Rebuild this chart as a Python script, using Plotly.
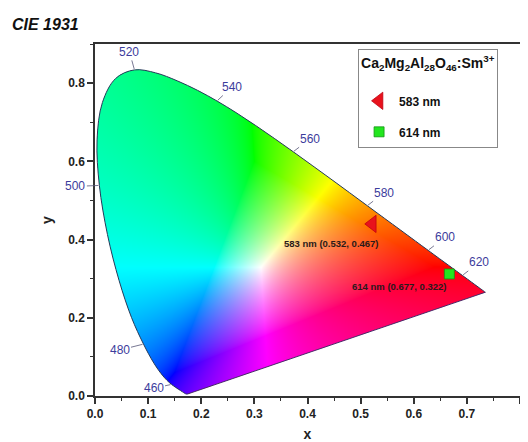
import base64, struct, zlib
import numpy as np
import plotly.graph_objects as go

# ---------------- data ----------------
# CIE 1931 2-degree spectral locus chromaticity (x, y), 380-700 nm, 5 nm steps
locus_nm = list(range(380, 705, 5))
locus_x = [0.1741, 0.1740, 0.1738, 0.1736, 0.1733, 0.1730, 0.1726, 0.1721, 0.1714, 0.1703,
           0.1689, 0.1669, 0.1644, 0.1611, 0.1566, 0.1510, 0.1440, 0.1355, 0.1241, 0.1096,
           0.0913, 0.0687, 0.0454, 0.0235, 0.0082, 0.0039, 0.0139, 0.0389, 0.0743, 0.1142,
           0.1547, 0.1929, 0.2296, 0.2658, 0.3016, 0.3373, 0.3731, 0.4087, 0.4441, 0.4788,
           0.5125, 0.5448, 0.5752, 0.6029, 0.6270, 0.6482, 0.6658, 0.6801, 0.6915, 0.7006,
           0.7079, 0.7140, 0.7190, 0.7230, 0.7260, 0.7283, 0.7300, 0.7311, 0.7320, 0.7327,
           0.7334, 0.7340, 0.7344, 0.7346, 0.7347]
locus_y = [0.0050, 0.0050, 0.0049, 0.0049, 0.0048, 0.0048, 0.0048, 0.0048, 0.0051, 0.0058,
           0.0069, 0.0086, 0.0109, 0.0138, 0.0177, 0.0227, 0.0297, 0.0399, 0.0578, 0.0868,
           0.1327, 0.2007, 0.2950, 0.4127, 0.5384, 0.6548, 0.7502, 0.8120, 0.8338, 0.8262,
           0.8059, 0.7816, 0.7543, 0.7243, 0.6923, 0.6589, 0.6245, 0.5896, 0.5547, 0.5202,
           0.4866, 0.4544, 0.4242, 0.3965, 0.3725, 0.3514, 0.3340, 0.3197, 0.3083, 0.2993,
           0.2920, 0.2859, 0.2809, 0.2770, 0.2740, 0.2717, 0.2700, 0.2689, 0.2680, 0.2673,
           0.2666, 0.2660, 0.2656, 0.2654, 0.2653]

# wavelength labels and their pixel offsets (text from locus point)
label_nm = [460, 480, 500, 520, 540, 560, 580, 600, 620]
label_ax = [-18, -24, -24, -5, 15, 17, 17, 17, 17]
label_ay = [4, 6, 1, -18, -14, -13, -13, -13, -13]

# samples
sample_names = ["583 nm", "614 nm"]
sample_x = [0.522, 0.667]
sample_y = [0.440, 0.312]
reported_x = [0.532, 0.677]
reported_y = [0.467, 0.322]
note_x = [0.445, 0.573]
note_y = [0.391, 0.281]
sample_symbols = ["triangle-left", "square"]
sample_colors = ["#e8121c", "#22e61e"]
sample_line = ["#c00010", "#139313"]
sample_sizes = [15, 10]

x_ticks = [0.0, 0.1, 0.2, 0.3, 0.4, 0.5, 0.6, 0.7, 0.8]
y_ticks = [0.0, 0.2, 0.4, 0.6, 0.8]
X_RANGE = [0.0, 0.8]
Y_RANGE = [0.0, 0.9]


# ---------------- smooth boundary for the colour fill ----------------
def catmull_rom(xs, ys, n=12):
    P = np.column_stack([xs, ys])
    P = np.vstack([P[0], P, P[-1]])
    out = []
    for i in range(1, len(P) - 2):
        p0, p1, p2, p3 = P[i - 1], P[i], P[i + 1], P[i + 2]
        for t in np.linspace(0, 1, n, endpoint=False):
            t2, t3 = t * t, t * t * t
            out.append(0.5 * ((2 * p1) + (-p0 + p2) * t + (2 * p0 - 5 * p1 + 4 * p2 - p3) * t2
                              + (-p0 + 3 * p1 - 3 * p2 + p3) * t3))
    out.append(P[-2])
    out = np.array(out)
    return out[:, 0], out[:, 1]


bx, by = catmull_rom(locus_x, locus_y)

# ---------------- gamut image ----------------
NX, NY = 850, 704
gx = X_RANGE[0] + (np.arange(NX) + 0.5) * (X_RANGE[1] - X_RANGE[0]) / NX
gy = Y_RANGE[1] - (np.arange(NY) + 0.5) * (Y_RANGE[1] - Y_RANGE[0]) / NY  # top row first
PX, PY = np.meshgrid(gx, gy)

vx = np.append(bx, bx[0])
vy = np.append(by, by[0])
inside = np.zeros(PX.shape, dtype=bool)
for i in range(len(vx) - 1):
    x1, y1, x2, y2 = vx[i], vy[i], vx[i + 1], vy[i + 1]
    if y1 == y2:
        continue
    cond = (y1 > PY) != (y2 > PY)
    xint = x1 + (PY - y1) * (x2 - x1) / (y2 - y1)
    inside ^= cond & (PX < xint)

yy = np.maximum(PY, 1e-6)
Xc = PX / yy
Yc = np.ones_like(PX)
Zc = (1 - PX - PY) / yy
M = np.array([[3.2406, -1.5372, -0.4986],
              [-0.9689, 1.8758, 0.0415],
              [0.0557, -0.2040, 1.0570]])
rgb = np.stack([Xc, Yc, Zc], axis=-1) @ M.T
mn = np.min(rgb, axis=-1, keepdims=True)
rgb = rgb - np.minimum(mn, 0)          # add white to bring into gamut
mx = np.max(rgb, axis=-1, keepdims=True)
rgb = rgb / np.where(mx > 0, mx, 1)
rgb = np.power(np.clip(rgb, 0, 1), 1 / 1.4)
rgb8 = (np.clip(rgb, 0, 1) * 255).astype(np.uint8)
alpha = (inside * 255).astype(np.uint8)
rgba = np.dstack([rgb8, alpha])


def png_data_uri(arr):
    h, w, _ = arr.shape
    raw = b"".join(b"\x00" + arr[r].tobytes() for r in range(h))

    def chunk(tag, data):
        c = struct.pack(">I", len(data)) + tag + data
        return c + struct.pack(">I", zlib.crc32(tag + data) & 0xFFFFFFFF)

    png = b"\x89PNG\r\n\x1a\n"
    png += chunk(b"IHDR", struct.pack(">IIBBBBB", w, h, 8, 6, 0, 0, 0))
    png += chunk(b"IDAT", zlib.compress(raw, 9))
    png += chunk(b"IEND", b"")
    return "data:image/png;base64," + base64.b64encode(png).decode()


# ---------------- figure ----------------
FONT = "Liberation Sans, Arial, sans-serif"
fig = go.Figure()

fig.add_layout_image(dict(source=png_data_uri(rgba), xref="x", yref="y",
                          x=X_RANGE[0], y=Y_RANGE[1],
                          sizex=X_RANGE[1] - X_RANGE[0], sizey=Y_RANGE[1] - Y_RANGE[0],
                          xanchor="left", yanchor="top", sizing="stretch", layer="below"))

OUTLINE = "#263a5a"
fig.add_trace(go.Scatter(x=locus_x, y=locus_y, mode="lines", line_shape="spline",
                         line=dict(color=OUTLINE, width=1), showlegend=False, hoverinfo="skip"))
fig.add_trace(go.Scatter(x=[locus_x[-1], locus_x[0]], y=[locus_y[-1], locus_y[0]], mode="lines",
                         line=dict(color="#4a2a6a", width=1), showlegend=False, hoverinfo="skip"))

for i in range(len(sample_names)):
    fig.add_trace(go.Scatter(x=[sample_x[i]], y=[sample_y[i]], mode="markers",
                             name=sample_names[i], legendgroup=sample_names[i],
                             marker=dict(symbol=sample_symbols[i], size=sample_sizes[i],
                                         color=sample_colors[i],
                                         line=dict(color=sample_line[i], width=0.8))))
    fig.add_annotation(x=note_x[i], y=note_y[i], xref="x", yref="y", showarrow=False,
                       text=f"{sample_names[i]} ({reported_x[i]:.3f}, {reported_y[i]:.3f})",
                       font=dict(family=FONT, size=9.5, color="#2a1a1a", weight="bold"))

for nm, ax, ay in zip(label_nm, label_ax, label_ay):
    k = locus_nm.index(nm)
    fig.add_annotation(x=locus_x[k], y=locus_y[k], xref="x", yref="y", text=str(nm),
                       showarrow=True, arrowhead=0, arrowwidth=0.8, arrowcolor="#555577",
                       ax=ax, ay=ay, standoff=1,
                       font=dict(family=FONT, size=12, color="#3c3c9c"))

fig.add_annotation(text="CIE 1931", xref="paper", yref="paper", x=-0.2, y=1.085,
                   xanchor="left", yanchor="top", showarrow=False,
                   font=dict(family=FONT, size=16, color="#111", weight="bold", style="italic"))

axis_common = dict(showline=True, linecolor="#333", linewidth=1.5, mirror=True,
                   ticks="outside", ticklen=6, tickwidth=1.5, tickcolor="#333",
                   showgrid=False, zeroline=False, tickformat=".1f", automargin=False,
                   tickfont=dict(family=FONT, size=12, color="#222", weight="bold"),
                   title_font=dict(family=FONT, size=14, color="#222", weight="bold"))

fig.update_xaxes(range=X_RANGE, tickvals=x_ticks, title_text="x", title_standoff=10,
                 minor=dict(ticks="outside", ticklen=3, tickwidth=1.2, tickcolor="#333", dtick=0.05),
                 **axis_common)
fig.update_yaxes(range=Y_RANGE, tickvals=y_ticks, title_text="y", title_standoff=12,
                 minor=dict(ticks="outside", ticklen=3, tickwidth=1.2, tickcolor="#333", dtick=0.1),
                 **axis_common)

# the page body adds an 8 px margin, so the figure is sized 8 px smaller
fig.update_layout(
    width=520, height=434,
    margin=dict(l=87, r=8, t=36, b=46, autoexpand=False),
    paper_bgcolor="white", plot_bgcolor="white",
    showlegend=True,
    legend=dict(x=0.619, y=0.986, xanchor="left", yanchor="top",
                bordercolor="#888", borderwidth=1, bgcolor="white",
                tracegroupgap=12,
                title=dict(text="Ca<sub>2</sub>Mg<sub>2</sub>Al<sub>28</sub>O<sub>46</sub>:Sm<sup>3+</sup><br> ",
                           font=dict(family=FONT, size=14, color="#111", weight="bold")),
                font=dict(family=FONT, size=12, color="#111", weight="bold")),
)

fig.write_html("out.html")
